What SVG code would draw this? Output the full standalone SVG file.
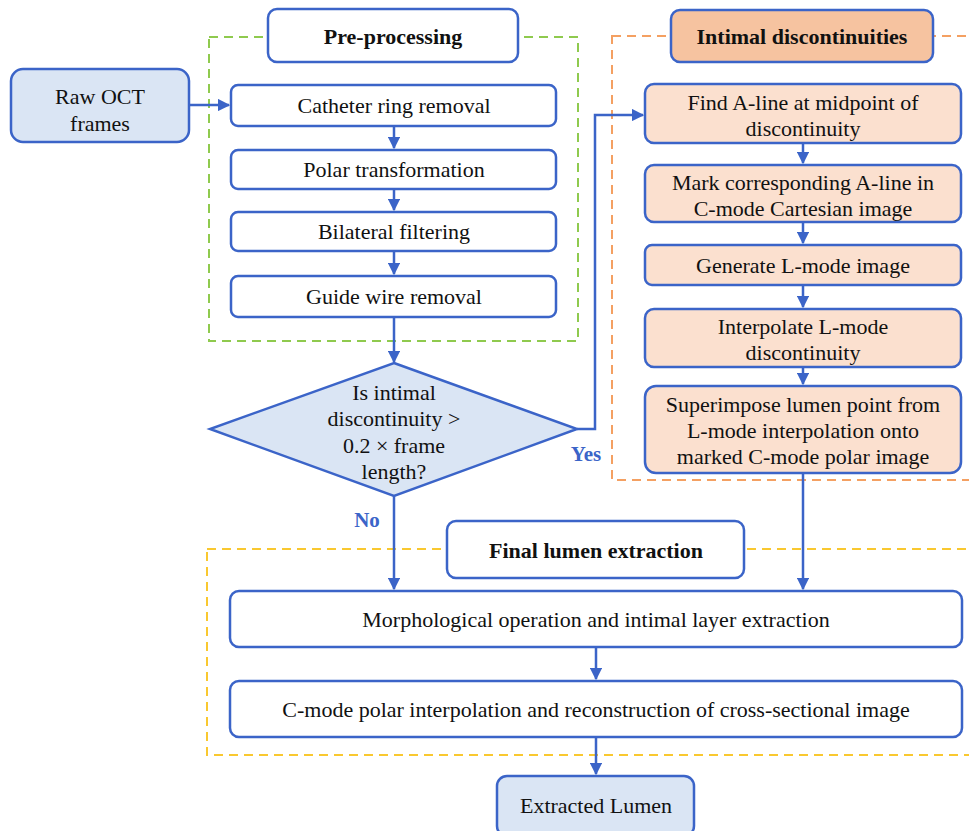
<svg xmlns="http://www.w3.org/2000/svg" width="969" height="831" viewBox="0 0 969 831">
<defs>
<style>
.box{fill:#ffffff;stroke:#3b64c8;stroke-width:2.5}
.blue{fill:#dae5f4;stroke:#3b64c8;stroke-width:2.5}
.or{fill:#fbe0cf;stroke:#3b64c8;stroke-width:2.5}
.orh{fill:#f6c3a0;stroke:#3b64c8;stroke-width:2.5}
text{font-family:'Liberation Serif','Times New Roman',serif;font-size:22px;fill:#111;text-anchor:middle}
.b{font-weight:bold}
.lbl{font-weight:bold;fill:#3b64c8;font-size:21px}
.c{fill:none;stroke:#3b64c8;stroke-width:2.5}
.dash{fill:none;stroke-width:2;stroke-dasharray:9,6}
</style>
<marker id="ah" viewBox="0 0 10 10" refX="9" refY="5" markerWidth="5" markerHeight="5" orient="auto" markerUnits="strokeWidth">
<path d="M0,0 L10,5 L0,10 z" fill="#3b64c8"/>
</marker>
</defs>
<rect width="969" height="831" fill="#ffffff"/>
<g id="groups">
<rect class="dash" x="209" y="37" width="369" height="304" stroke="#8fca4e"/>
<rect class="dash" x="612" y="36" width="370" height="444" stroke="#f4a062"/>
<rect class="dash" x="207" y="549" width="775" height="206" stroke="#f9c830"/>
</g>
<g id="connectors">
<line class="c" x1="189" y1="105" x2="229" y2="105" marker-end="url(#ah)"/>
<line class="c" x1="394" y1="126" x2="394" y2="148" marker-end="url(#ah)"/>
<line class="c" x1="394" y1="189" x2="394" y2="210" marker-end="url(#ah)"/>
<line class="c" x1="394" y1="251" x2="394" y2="274" marker-end="url(#ah)"/>
<line class="c" x1="394" y1="317" x2="394" y2="362" marker-end="url(#ah)"/>
<polyline class="c" points="577,429 595,429 595,115 643,115" marker-end="url(#ah)"/>
<line class="c" x1="803" y1="143" x2="803" y2="163" marker-end="url(#ah)"/>
<line class="c" x1="803" y1="222" x2="803" y2="243" marker-end="url(#ah)"/>
<line class="c" x1="803" y1="285" x2="803" y2="307" marker-end="url(#ah)"/>
<line class="c" x1="803" y1="367" x2="803" y2="384" marker-end="url(#ah)"/>
<line class="c" x1="803" y1="473" x2="803" y2="589" marker-end="url(#ah)"/>
<line class="c" x1="394" y1="496" x2="394" y2="589" marker-end="url(#ah)"/>
<line class="c" x1="596" y1="647" x2="596" y2="679" marker-end="url(#ah)"/>
<line class="c" x1="596" y1="737" x2="596" y2="774" marker-end="url(#ah)"/>
<text class="lbl" x="586" y="461">Yes</text>
<text class="lbl" x="367" y="527">No</text>
</g>
<g id="pre-title"><rect class="box" x="268" y="9" width="250" height="53" rx="9"/><text class="b" x="393" y="44">Pre-processing</text></g>
<g id="raw"><rect class="blue" x="11" y="69" width="178" height="73" rx="12"/><text x="100" y="104">Raw OCT</text><text x="100" y="131">frames</text></g>
<g id="catheter"><rect class="box" x="231" y="85" width="325" height="41" rx="7"/><text x="394" y="113">Catheter ring removal</text></g>
<g id="polar"><rect class="box" x="231" y="150" width="325" height="39" rx="7"/><text x="394" y="177">Polar transformation</text></g>
<g id="bilateral"><rect class="box" x="231" y="212" width="325" height="39" rx="7"/><text x="394" y="239">Bilateral filtering</text></g>
<g id="guide"><rect class="box" x="231" y="276" width="325" height="41" rx="7"/><text x="394" y="304">Guide wire removal</text></g>
<g id="decision"><polygon class="blue" points="394,363 577,429 394,496 210,429"/>
<text x="394" y="400">Is intimal</text><text x="394" y="426">discontinuity &gt;</text><text x="394" y="453">0.2 × frame</text><text x="394" y="479">length?</text></g>
<g id="int-title"><rect class="orh" x="671" y="10" width="262" height="52" rx="9"/><text class="b" x="802" y="44">Intimal discontinuities</text></g>
<g id="find"><rect class="or" x="645" y="84" width="316" height="59" rx="9"/><text x="803" y="110">Find A-line at midpoint of</text><text x="803" y="136">discontinuity</text></g>
<g id="mark"><rect class="or" x="645" y="165" width="316" height="57" rx="9"/><text x="803" y="190">Mark corresponding A-line in</text><text x="803" y="216">C-mode Cartesian image</text></g>
<g id="generate"><rect class="or" x="645" y="245" width="316" height="40" rx="7"/><text x="803" y="273">Generate L-mode image</text></g>
<g id="interp"><rect class="or" x="645" y="309" width="316" height="58" rx="9"/><text x="803" y="334">Interpolate L-mode</text><text x="803" y="360">discontinuity</text></g>
<g id="superimpose"><rect class="or" x="645" y="386" width="316" height="87" rx="11"/><text x="803" y="412">Superimpose lumen point from</text><text x="803" y="438">L-mode interpolation onto</text><text x="803" y="464">marked C-mode polar image</text></g>
<g id="final-title"><rect class="box" x="447" y="521" width="297" height="57" rx="9"/><text class="b" x="596" y="558">Final lumen extraction</text></g>
<g id="morph"><rect class="box" x="230" y="591" width="732" height="56" rx="9"/><text x="596" y="627">Morphological operation and intimal layer extraction</text></g>
<g id="cmode"><rect class="box" x="230" y="681" width="732" height="56" rx="9"/><text x="596" y="717">C-mode polar interpolation and reconstruction of cross-sectional image</text></g>
<g id="extracted"><rect class="blue" x="497" y="776" width="197" height="60" rx="10"/><text x="596" y="813">Extracted Lumen</text></g>
</svg>
